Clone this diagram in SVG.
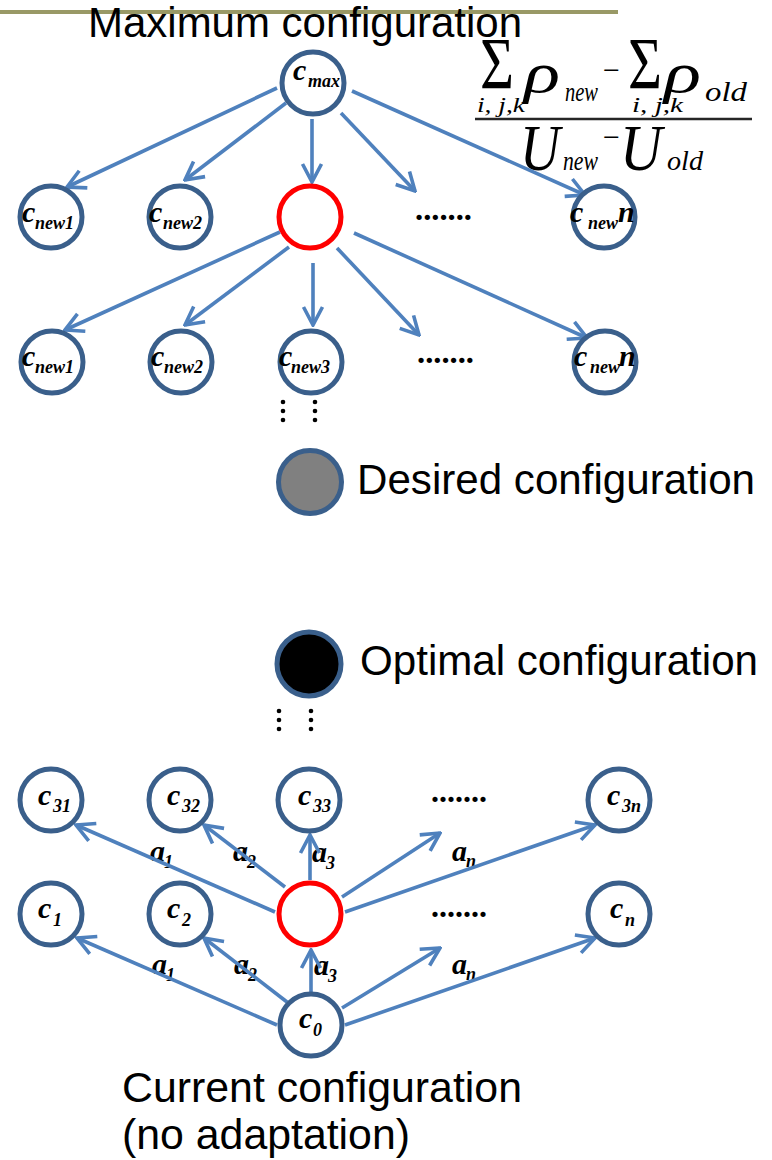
<svg xmlns="http://www.w3.org/2000/svg" width="772" height="1160" viewBox="0 0 772 1160">
<defs>
<style>
.n{fill:#fff;stroke:#3a5f8b;stroke-width:5}
.r{fill:#fff;stroke:#ff0000;stroke-width:5}
.e{stroke:#4f81bd;stroke-width:3.6;fill:none;marker-end:url(#ah)}
.big{font-family:"Liberation Sans",Arial,sans-serif;font-size:43px;fill:#000}
.lb{font-family:"Liberation Serif","Times New Roman",serif;font-weight:bold;font-style:italic;fill:#000}
.c{font-size:30px}
.s{font-size:18px}
.f{font-family:"Liberation Serif","Times New Roman",serif;fill:#000}
.fi{font-family:"Liberation Serif","Times New Roman",serif;font-style:italic;fill:#000}
.dots{font-family:"Liberation Serif","Times New Roman",serif;font-weight:bold;font-size:32px;fill:#000}
.vd{fill:#000}
</style>
<marker id="ah" markerUnits="userSpaceOnUse" viewBox="-22 -13 24 26" refX="0" refY="0" markerWidth="24" markerHeight="26" orient="auto">
<path d="M-18,-9.5 L0,0 L-18,9.5" fill="none" stroke="#4f81bd" stroke-width="3.6"/>
</marker>
</defs>
<rect width="772" height="1160" fill="#fff"/>

<g id="header">
<line x1="0" y1="12" x2="618" y2="12" stroke="#999966" stroke-width="4"/>
<text class="big" x="88" y="37" textLength="434" lengthAdjust="spacingAndGlyphs">Maximum configuration</text>
</g>

<g id="formula">
<text class="f" x="480" y="89" font-size="74" textLength="34" lengthAdjust="spacingAndGlyphs">Σ</text>
<text class="fi" x="524" y="92" font-size="58" textLength="36" lengthAdjust="spacingAndGlyphs">ρ</text>
<text class="fi" x="565" y="101" font-size="28" textLength="33" lengthAdjust="spacingAndGlyphs">new</text>
<text class="fi" x="477" y="112" font-size="20" textLength="48" lengthAdjust="spacingAndGlyphs">i, j,k</text>
<text class="f" x="603" y="80" font-size="30">−</text>
<text class="f" x="628" y="89" font-size="74" textLength="34" lengthAdjust="spacingAndGlyphs">Σ</text>
<text class="fi" x="664" y="92" font-size="58" textLength="37" lengthAdjust="spacingAndGlyphs">ρ</text>
<text class="fi" x="705" y="101" font-size="28" textLength="42" lengthAdjust="spacingAndGlyphs">old</text>
<text class="fi" x="632" y="112" font-size="20" textLength="51" lengthAdjust="spacingAndGlyphs">i, j,k</text>
<line x1="475" y1="119" x2="752" y2="119" stroke="#262626" stroke-width="2.5"/>
<text class="fi" x="520" y="170" font-size="66" textLength="40" lengthAdjust="spacingAndGlyphs">U</text>
<text class="fi" x="563" y="170" font-size="28" textLength="35" lengthAdjust="spacingAndGlyphs">new</text>
<text class="f" x="603" y="147" font-size="30">−</text>
<text class="fi" x="620" y="170" font-size="66" textLength="42" lengthAdjust="spacingAndGlyphs">U</text>
<text class="fi" x="667" y="170" font-size="28" textLength="36" lengthAdjust="spacingAndGlyphs">old</text>
</g>

<g id="edge-labels" class="lb">
<text class="c" x="150" y="861">a</text><text class="s" x="164" y="868">1</text>
<text class="c" x="233" y="861">a</text><text class="s" x="247" y="868">2</text>
<text class="c" x="312" y="862">a</text><text class="s" x="326" y="869">3</text>
<text class="c" x="452" y="861">a</text><text class="s" x="466" y="867">n</text>
<text class="c" x="152" y="974">a</text><text class="s" x="166" y="981">1</text>
<text class="c" x="234" y="974">a</text><text class="s" x="248" y="981">2</text>
<text class="c" x="314" y="975">a</text><text class="s" x="328" y="982">3</text>
<text class="c" x="452" y="974">a</text><text class="s" x="466" y="980">n</text>
</g>

<g id="connectors">
<line class="e" x1="277" y1="88" x2="67" y2="187"/>
<line class="e" x1="286" y1="103" x2="185" y2="180"/>
<line class="e" x1="312" y1="119" x2="312" y2="182"/>
<line class="e" x1="341" y1="113" x2="415" y2="191"/>
<line class="e" x1="352" y1="91" x2="585" y2="195"/>
<line class="e" x1="280" y1="232" x2="65" y2="330"/>
<line class="e" x1="289" y1="247" x2="185" y2="325"/>
<line class="e" x1="313" y1="263" x2="313" y2="325"/>
<line class="e" x1="337" y1="248" x2="419" y2="335"/>
<line class="e" x1="354" y1="233" x2="587" y2="338"/>
<line class="e" x1="275" y1="912" x2="76" y2="825"/>
<line class="e" x1="285" y1="887" x2="204" y2="825"/>
<line class="e" x1="310" y1="880" x2="310" y2="835"/>
<line class="e" x1="342" y1="897" x2="440" y2="833"/>
<line class="e" x1="345" y1="912" x2="595" y2="825"/>
<line class="e" x1="277" y1="1025" x2="77" y2="938"/>
<line class="e" x1="287" y1="1002" x2="204" y2="938"/>
<line class="e" x1="311" y1="993" x2="311" y2="950"/>
<line class="e" x1="342" y1="1008" x2="440" y2="948"/>
<line class="e" x1="345" y1="1025" x2="595" y2="938"/>
</g>

<g id="cmax"><ellipse class="n" cx="313" cy="83" rx="31" ry="31"/>
<text class="lb"><tspan class="c" x="293" y="80">c</tspan><tspan class="s" x="308" y="87" font-size="17">max</tspan></text></g>

<g id="r1-new1"><ellipse class="n" cx="51" cy="217" rx="31" ry="31"/>
<text class="lb"><tspan class="c" x="22" y="222">c</tspan><tspan class="s" x="35" y="229">new1</tspan></text></g>
<g id="r1-new2"><ellipse class="n" cx="180" cy="217" rx="31" ry="31"/>
<text class="lb"><tspan class="c" x="149" y="222">c</tspan><tspan class="s" x="163" y="229">new2</tspan></text></g>
<g id="r1-sel"><ellipse class="r" cx="310" cy="217" rx="31" ry="31"/></g>
<g id="r1-more"><text class="dots" x="415" y="220" textLength="57" lengthAdjust="spacingAndGlyphs">.......</text></g>
<g id="r1-newn"><ellipse class="n" cx="604" cy="217" rx="31" ry="31"/>
<text class="lb"><tspan class="c" x="570" y="222">c</tspan><tspan class="s" x="588" y="229">new</tspan><tspan class="c" x="618" y="222">n</tspan></text></g>

<g id="r2-new1"><ellipse class="n" cx="52" cy="362" rx="31" ry="31"/>
<text class="lb"><tspan class="c" x="22" y="366">c</tspan><tspan class="s" x="35" y="373">new1</tspan></text></g>
<g id="r2-new2"><ellipse class="n" cx="181" cy="362" rx="31" ry="31"/>
<text class="lb"><tspan class="c" x="151" y="366">c</tspan><tspan class="s" x="164" y="373">new2</tspan></text></g>
<g id="r2-new3"><ellipse class="n" cx="311" cy="362" rx="31" ry="31"/>
<text class="lb"><tspan class="c" x="279" y="366">c</tspan><tspan class="s" x="291" y="373">new3</tspan></text></g>
<g id="r2-more"><text class="dots" x="417" y="363" textLength="57" lengthAdjust="spacingAndGlyphs">.......</text></g>
<g id="r2-newn"><ellipse class="n" cx="605" cy="362" rx="31" ry="31"/>
<text class="lb"><tspan class="c" x="574" y="366">c</tspan><tspan class="s" x="590" y="373">new</tspan><tspan class="c" x="619" y="366">n</tspan></text></g>

<g id="vdots-1">
<circle class="vd" cx="283" cy="402" r="2.3"/><circle class="vd" cx="283" cy="411" r="2.3"/><circle class="vd" cx="283" cy="420" r="2.3"/>
<circle class="vd" cx="315" cy="402" r="2.3"/><circle class="vd" cx="315" cy="411" r="2.3"/><circle class="vd" cx="315" cy="420" r="2.3"/>
</g>

<g id="desired"><circle cx="310" cy="482" r="31.5" fill="#808080" stroke="#3a5f8b" stroke-width="5"/>
<text class="big" x="357" y="494" textLength="398" lengthAdjust="spacingAndGlyphs">Desired configuration</text></g>

<g id="optimal"><circle cx="309" cy="664" r="32" fill="#000" stroke="#3a5f8b" stroke-width="5"/>
<text class="big" x="360" y="675" textLength="398" lengthAdjust="spacingAndGlyphs">Optimal configuration</text></g>

<g id="vdots-2">
<circle class="vd" cx="279" cy="711" r="2.3"/><circle class="vd" cx="279" cy="720" r="2.3"/><circle class="vd" cx="279" cy="729" r="2.3"/>
<circle class="vd" cx="311" cy="711" r="2.3"/><circle class="vd" cx="311" cy="720" r="2.3"/><circle class="vd" cx="311" cy="729" r="2.3"/>
</g>

<g id="c31"><ellipse class="n" cx="51" cy="800" rx="31" ry="31"/>
<text class="lb"><tspan class="c" x="38" y="805">c</tspan><tspan class="s" x="53" y="812">31</tspan></text></g>
<g id="c32"><ellipse class="n" cx="180" cy="800" rx="31" ry="31"/>
<text class="lb"><tspan class="c" x="167" y="805">c</tspan><tspan class="s" x="182" y="812">32</tspan></text></g>
<g id="c33"><ellipse class="n" cx="309" cy="800" rx="31" ry="31"/>
<text class="lb"><tspan class="c" x="298" y="805">c</tspan><tspan class="s" x="313" y="812">33</tspan></text></g>
<g id="r3-more"><text class="dots" x="431" y="802" textLength="56" lengthAdjust="spacingAndGlyphs">.......</text></g>
<g id="c3n"><ellipse class="n" cx="619" cy="800" rx="31" ry="31"/>
<text class="lb"><tspan class="c" x="607" y="805">c</tspan><tspan class="s" x="622" y="812">3n</tspan></text></g>

<g id="c1"><ellipse class="n" cx="51" cy="914" rx="31" ry="31"/>
<text class="lb"><tspan class="c" x="38" y="918">c</tspan><tspan class="s" x="53" y="926">1</tspan></text></g>
<g id="c2"><ellipse class="n" cx="180" cy="914" rx="31" ry="31"/>
<text class="lb"><tspan class="c" x="167" y="918">c</tspan><tspan class="s" x="182" y="926">2</tspan></text></g>
<g id="r4-sel"><ellipse class="r" cx="310" cy="914" rx="31" ry="31"/></g>
<g id="r4-more"><text class="dots" x="431" y="917" textLength="56" lengthAdjust="spacingAndGlyphs">.......</text></g>
<g id="cn"><ellipse class="n" cx="619" cy="914" rx="31" ry="31"/>
<text class="lb"><tspan class="c" x="610" y="918">c</tspan><tspan class="s" x="625" y="926">n</tspan></text></g>

<g id="c0"><ellipse class="n" cx="311" cy="1025" rx="31" ry="31"/>
<text class="lb"><tspan class="c" x="299" y="1028">c</tspan><tspan class="s" x="313" y="1036">0</tspan></text>
<text class="big" x="122" y="1102" textLength="400" lengthAdjust="spacingAndGlyphs">Current configuration</text>
<text class="big" x="122" y="1149" textLength="288" lengthAdjust="spacingAndGlyphs">(no adaptation)</text></g>
</svg>
